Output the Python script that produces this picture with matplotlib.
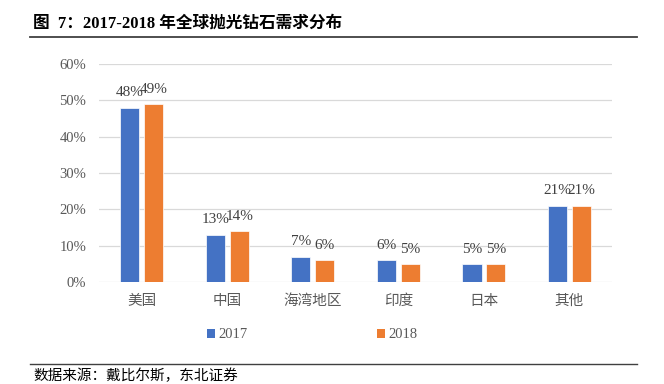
"""Global polished diamond demand by region, 2017 vs 2018."""

import matplotlib
matplotlib.use("Agg")
import matplotlib.pyplot as plt
import matplotlib.ticker as mticker
from matplotlib.lines import Line2D
from matplotlib.patches import Patch
import numpy as np

plt.rcParams["font.family"] = ["Liberation Serif", "Noto Sans CJK SC", "DejaVu Sans"]

regions = ["美国", "中国", "海湾地区", "印度", "日本", "其他"]
share_2017 = [0.48, 0.13, 0.07, 0.06, 0.05, 0.21]
share_2018 = [0.49, 0.14, 0.06, 0.05, 0.05, 0.21]
years = ["2017", "2018"]

BLUE   = "#4472C4"
ORANGE = "#ED7D31"
GRID   = "#D9D9D9"
TEXT   = "#595959"

fig = plt.figure(figsize=(6.64, 3.84), dpi=100)
ax = fig.add_axes([0.149, 0.2656, 0.773, 0.5677])

x = np.arange(len(regions))
w = 0.225
b1 = ax.bar(x - 0.14, share_2017, w, color=BLUE, edgecolor="white", linewidth=0.5, zorder=3)
b2 = ax.bar(x + 0.14, share_2018, w, color=ORANGE, edgecolor="white", linewidth=0.5, zorder=3)

for bars in (b1, b2):
    for bar in bars:
        ax.annotate(f"{bar.get_height() * 100:.0f}%",
                    (bar.get_x() + bar.get_width() / 2, bar.get_height()),
                    xytext=(0, 6), textcoords="offset points",
                    ha="center", va="bottom", fontsize=11, color="#404040")

ax.set_xlim(-0.5, len(regions) - 0.5)
ax.set_ylim(0, 0.6)
ax.yaxis.set_major_locator(mticker.MultipleLocator(0.1))
ax.yaxis.set_major_formatter(mticker.FuncFormatter(lambda v, _: f"{v * 100:.0f}%"))
ax.set_xticks(x)
ax.set_xticklabels(regions)
ax.tick_params(axis="both", length=0, colors=TEXT, labelsize=10.5)
ax.tick_params(axis="y", pad=9)
ax.tick_params(axis="x", pad=9)
ax.grid(axis="y", color=GRID, linewidth=0.9, zorder=0)
for s in ax.spines.values():
    s.set_visible(False)

handles = [Patch(facecolor=BLUE, edgecolor="none"), Patch(facecolor=ORANGE, edgecolor="none")]
fig.legend(handles, years, ncol=2, loc="center", bbox_to_anchor=(0.470, 0.128),
           frameon=False, fontsize=10.5, handlelength=0.55, handleheight=0.55,
           handletextpad=0.25, columnspacing=8.85, labelcolor=TEXT)

# title and source, with rules
fig.text(33 / 664, 1 - 24 / 384, "图  7：2017-2018 年全球抛光钻石需求分布",
         fontsize=12, fontweight="bold", ha="left", va="center", color="black")
fig.add_artist(Line2D([30 / 664, 637 / 664], [1 - 37 / 384] * 2, color="#404040", linewidth=1.3))
fig.add_artist(Line2D([30 / 664, 637 / 664], [1 - 364 / 384] * 2, color="#404040", linewidth=1.0))
fig.text(33 / 664, 1 - 376 / 384, "数据来源：戴比尔斯，东北证券",
         fontsize=10.5, ha="left", va="center", color="black")

fig.savefig("out.png", dpi=100)
